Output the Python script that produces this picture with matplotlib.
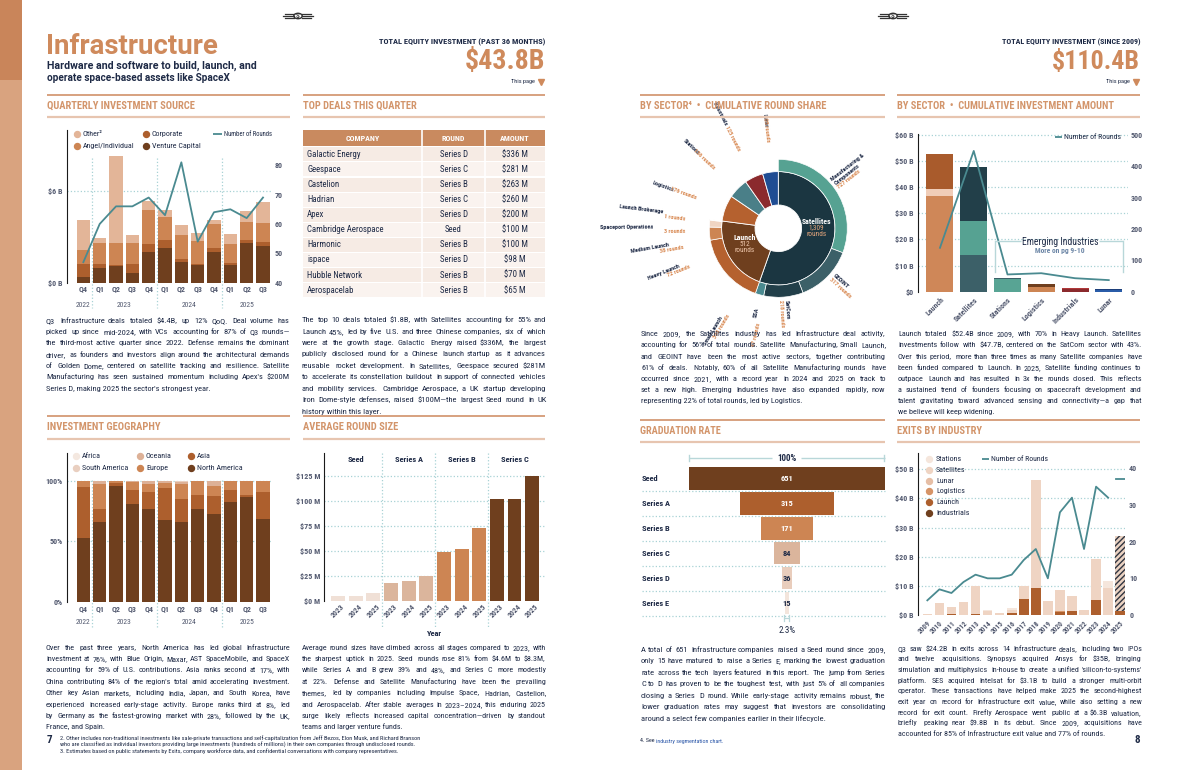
import math
import numpy as np
import matplotlib
matplotlib.use('Agg')
import matplotlib.pyplot as plt
import matplotlib.transforms as mtrans
from matplotlib import font_manager as fm
from matplotlib.patches import Rectangle, Wedge, Circle
from matplotlib.lines import Line2D

# ---------------- DATA ----------------
quarters = ['Q4', 'Q1', 'Q2', 'Q3', 'Q4', 'Q1', 'Q2', 'Q3', 'Q4', 'Q1', 'Q2', 'Q3']
quarter_years = ['2022', '2023', '2024', '2025']
qis_vc = [0.39, 0.96, 1.11, 0.63, 2.03, 2.27, 1.35, 1.18, 2.03, 1.16, 2.62, 2.40]
qis_corp = [0.83, 0.26, 0.05, 0.59, 0.50, 0.52, 0.20, 0.06, 0.24, 0.13, 0.17, 0.28]
qis_angel = [0.92, 1.40, 1.42, 1.40, 2.23, 1.51, 1.57, 1.51, 1.59, 1.24, 1.20, 1.25]
qis_other = [1.96, 0.28, 5.72, 0.50, 0.59, 0.46, 0.65, 0.52, 0.24, 0.66, 0.70, 1.35]
qis_rounds = [47, 60, 66, 66, 69, 63, 81, 54, 64, 65, 62, 69]

deal_company = ['Galactic Energy', 'Geespace', 'Castelion', 'Hadrian', 'Apex',
                'Cambridge Aerospace', 'Harmonic', 'ispace', 'Hubble Network', 'Aerospacelab']
deal_round = ['Series D', 'Series C', 'Series B', 'Series C', 'Series D',
              'Seed', 'Series B', 'Series D', 'Series B', 'Series B']
deal_amount = ['$336 M', '$281 M', '$263 M', '$260 M', '$200 M',
               '$100 M', '$100 M', '$98 M', '$70 M', '$65 M']

geo_na = [52.3, 65.8, 95.6, 80.7, 76.6, 67.5, 65.8, 76.6, 72.5, 82.4, 86.5, 68.3]
geo_asia = [42.5, 10.5, 2.2, 11.3, 14.0, 26.4, 19.0, 11.6, 14.8, 9.9, 1.7, 22.3]
geo_europe = [5.2, 20.9, 1.6, 6.9, 6.4, 4.2, 12.4, 11.8, 8.3, 7.7, 11.8, 9.4]
geo_oceania = [0.0, 2.8, 0.6, 1.1, 3.0, 1.4, 2.0, 0.0, 4.4, 0.0, 0.0, 0.0]
geo_samerica = [0.0, 0.0, 0.0, 0.0, 0.0, 0.5, 0.8, 0.0, 0.0, 0.0, 0.0, 0.0]
geo_africa = [0.0, 0.0, 0.0, 0.0, 0.0, 0.0, 0.0, 0.0, 0.0, 0.0, 0.0, 0.0]

ars_stages = ['Seed', 'Series A', 'Series B', 'Series C']
ars_years = ['2023', '2024', '2025']
ars_seed = [4.6, 5.2, 8.3]
ars_a = [18.0, 20.3, 25.0]
ars_b = [49.0, 52.0, 73.0]
ars_c = [102.0, 102.0, 125.0]

sb_inner_names = ['Satellites', 'Launch', 'Logistics', 'Stations', 'Industrials', 'Lunar']
sb_inner_rounds = [1309, 512, 176, 136, 125, 105]
sb_sat_names = ['Manufacturing &\nComponents', 'GEOINT', 'SatCom', 'SSA']
sb_sat_rounds = [727, 317, 218, 47]
sb_launch_names = ['Small Launch', 'Heavy Launch', 'Medium Launch', 'Spaceport Operations', 'Launch Brokerage']
sb_launch_rounds = [398, 72, 38, 3, 1]

cia_sectors = ['Launch', 'Satellites', 'Stations', 'Logistics', 'Industrials', 'Lunar']
cia_seg1 = [36.5, 14.0, 4.7, 1.9, 1.0, 0.8]
cia_seg2 = [2.9, 13.2, 0.6, 1.0, 0.5, 0.2]
cia_seg3 = [13.3, 20.7, 0.0, 0.0, 0.0, 0.0]
cia_rounds = [140, 449, 55, 59, 43, 37]

grad_stages = ['Seed', 'Series A', 'Series B', 'Series C', 'Series D', 'Series E']
grad_counts = [651, 315, 171, 84, 36, 15]

exit_years = [str(y) for y in range(2009, 2026)]
exit_industrials = [0, 0, 0, 0, 0, 0, 0, 0, 0, 0, 0, 0, 0, 0, 0, 0, 0]
exit_launch = [0, 0, 0.3, 0, 0.3, 0, 0, 0.8, 5.6, 9.3, 0, 1.1, 1.5, 0, 5.1, 0, 1.4]
exit_logistics = [0, 0, 0, 0, 0, 0, 0, 0, 0, 0, 0, 0.2, 0, 0, 0, 0, 0]
exit_lunar = [0] * 17
exit_satellites = [0.3, 4.1, 2.4, 4.5, 9.8, 1.3, 0.7, 0.9, 4.5, 37.0, 4.8, 7.3, 5.0, 1.7, 14.2, 9.4, 25.7]
exit_stations = [0, 0, 0, 0, 0, 0.4, 0, 0.8, 0, 0, 0, 0, 0, 0, 0, 2.4, 0]
exit_rounds = [4, 7, 6, 9, 11, 10, 10, 11, 15, 18, 10, 28, 32, 18, 35, 32]
exit_rounds_2025 = 37

txt_q = ["Q3 Infrastructure deals totaled $4.4B, up 12% QoQ. Deal volume has",
         "picked up since mid-2024, with VCs accounting for 87% of Q3 rounds—",
         "the third-most active quarter since 2022. Defense remains the dominant",
         "driver, as founders and investors align around the architectural demands",
         "of Golden Dome, centered on satellite tracking and resilience. Satellite",
         "Manufacturing has seen sustained momentum including Apex's $200M",
         "Series D, making 2025 the sector's strongest year."]
txt_deals = ["The top 10 deals totaled $1.8B, with Satellites accounting for 55% and",
             "Launch 45%, led by five U.S. and three Chinese companies, six of which",
             "were at the growth stage. Galactic Energy raised $336M, the largest",
             "publicly disclosed round for a Chinese launch startup as it advances",
             "reusable rocket development. In Satellites, Geespace secured $281M",
             "to accelerate its constellation buildout in support of connected vehicles",
             "and mobility services. Cambridge Aerospace, a UK startup developing",
             "Iron Dome-style defenses, raised $100M—the largest Seed round in UK",
             "history within this layer."]
txt_share = ["Since 2009, the Satellites industry has led Infrastructure deal activity,",
             "accounting for 56% of total rounds. Satellite Manufacturing, Small Launch,",
             "and GEOINT have been the most active sectors, together contributing",
             "61% of deals. Notably, 60% of all Satellite Manufacturing rounds have",
             "occurred since 2021, with a record year in 2024 and 2025 on track to",
             "set a new high. Emerging Industries have also expanded rapidly, now",
             "representing 22% of total rounds, led by Logistics."]
txt_amount = ["Launch totaled $52.4B since 2009, with 70% in Heavy Launch. Satellites",
              "investments follow with $47.7B, centered on the SatCom sector with 43%.",
              "Over this period, more than three times as many Satellite companies have",
              "been funded compared to Launch. In 2025, Satellite funding continues to",
              "outpace Launch and has resulted in 3x the rounds closed. This reflects",
              "a sustained trend of founders focusing on spacecraft development and",
              "talent gravitating toward advanced sensing and connectivity—a gap that",
              "we believe will keep widening."]
txt_geo = ["Over the past three years, North America has led global Infrastructure",
           "investment at 76%, with Blue Origin, Maxar, AST SpaceMobile, and SpaceX",
           "accounting for 59% of U.S. contributions. Asia ranks second at 17%, with",
           "China contributing 84% of the region's total amid accelerating investment.",
           "Other key Asian markets, including India, Japan, and South Korea, have",
           "experienced increased early-stage activity. Europe ranks third at 8%, led",
           "by Germany as the fastest-growing market with 28%, followed by the UK,",
           "France, and Spain."]
txt_ars = ["Average round sizes have climbed across all stages compared to 2023, with",
           "the sharpest uptick in 2025. Seed rounds rose 81% from $4.6M to $8.3M,",
           "while Series A and B grew 39% and 48%, and Series C more modestly",
           "at 22%. Defense and Satellite Manufacturing have been the prevailing",
           "themes, led by companies including Impulse Space, Hadrian, Castelion,",
           "and Aerospacelab. After stable averages in 2023–2024, this enduring 2025",
           "surge likely reflects increased capital concentration—driven by standout",
           "teams and larger venture funds."]
txt_grad = ["A total of 651 Infrastructure companies raised a Seed round since 2009,",
            "only 15 have matured to raise a Series E, marking the lowest graduation",
            "rate across the tech layers featured in this report. The jump from Series",
            "C to D has proven to be the toughest test, with just 5% of all companies",
            "closing a Series D round. While early-stage activity remains robust, the",
            "lower graduation rates may suggest that investors are consolidating",
            "around a select few companies earlier in their lifecycle."]
txt_exit = ["Q3 saw $24.2B in exits across 14 Infrastructure deals, including two IPOs",
            "and twelve acquisitions. Synopsys acquired Ansys for $35B, bringing",
            "simulation and multiphysics in-house to create a unified 'silicon-to-systems'",
            "platform. SES acquired Intelsat for $3.1B to build a stronger multi-orbit",
            "operator. These transactions have helped make 2025 the second-highest",
            "exit year on record for Infrastructure exit value, while also setting a new",
            "record for exit count. Firefly Aerospace went public at a $6.3B valuation,",
            "briefly peaking near $9.8B in its debut. Since 2009, acquisitions have",
            "accounted for 85% of Infrastructure exit value and 77% of rounds."]
footnotes_left = ["2. Other includes non-traditional investments like sale-private transactions and self-capitalization from Jeff Bezos, Elon Musk, and Richard Branson",
                  "who are classified as individual investors providing large investments (hundreds of millions) in their own companies through undisclosed rounds.",
                  "3. Estimates based on public statements by Exits, company workforce data, and confidential conversations with company representatives."]

# ---------------- FONT ----------------
ents = fm.fontManager.ttflist
names = {f.name for f in ents}
NAR, STR = None, 'normal'
for cand in ['Roboto Condensed', 'Liberation Sans Narrow', 'Open Sans Condensed', 'Noto Sans Condensed',
             'DejaVu Sans Condensed', 'Arial Narrow', 'Noto Sans SemiCondensed', 'Open Sans SemiCondensed']:
    if cand in names:
        NAR = cand
        break
if NAR is None:
    for fam in ['Roboto', 'Open Sans', 'Noto Sans', 'DejaVu Sans', 'Liberation Sans', 'Lato', 'Inter']:
        hit = [f for f in ents if f.name == fam and 'condensed' in str(f.stretch)]
        if hit:
            NAR, STR = fam, hit[0].stretch
            break
if NAR is None:
    NAR = 'Roboto' if 'Roboto' in names else 'DejaVu Sans'
plt.rcParams['font.family'] = NAR
plt.rcParams['font.stretch'] = STR
FAM = NAR
FAMX = [NAR, 'DejaVu Sans']
WIDE = 'Roboto' if 'Roboto' in names else 'DejaVu Sans'

# ---------------- STYLE ----------------
W, H = 1190, 770
NAVY = '#1e2a46'
TAN = '#cf8a5c'
SEC = '#d3956b'
LINE1 = '#d49a75'
LINE2 = '#e7c5b0'
GRID = '#a8d2d5'
TEAL = '#4a8a90'
TICK = '#535a70'
C_DARK = '#6f3f1e'
C_MED = '#ad5f2d'
C_ORG = '#cd8553'
C_LT = '#e3b598'
BR = '#b8d7d9'

fig = plt.figure(figsize=(W / 100, H / 100), dpi=100)
fig.patch.set_facecolor('white')
R = fig.canvas.get_renderer()


def fx(x):
    return x / W


def fy(y):
    return 1 - y / H


def add_ax(x0, y0, x1, y1):
    a = fig.add_axes([x0 / W, 1 - y1 / H, (x1 - x0) / W, (y1 - y0) / H])
    a.set_facecolor('none')
    return a


def T(x, y, s, **kw):
    kw.setdefault('family', FAM)
    kw.setdefault('color', NAVY)
    kw.setdefault('parse_math', False)
    return fig.text(fx(x), fy(y), s, **kw)


def tw(s, **kw):
    kw.setdefault('family', FAM)
    kw.setdefault('parse_math', False)
    t = fig.text(0, 0, s, **kw)
    w = t.get_window_extent(R).width
    t.remove()
    return w


def Tfit(x, y, s, width, **kw):
    base = kw.get('fontsize', 8)
    w = tw(s, **{k: v for k, v in kw.items() if k in ('fontsize', 'weight', 'family')})
    kw['fontsize'] = base * width / w
    return T(x, y, s, **kw)


def hline(x0, x1, y, color, lw=1.2, ls='-'):
    fig.add_artist(Line2D([fx(x0), fx(x1)], [fy(y), fy(y)], color=color, lw=lw, ls=ls,
                          transform=fig.transFigure, solid_capstyle='butt'))


def vline(x, y0, y1, color, lw=1.0, ls='-'):
    fig.add_artist(Line2D([fx(x), fx(x)], [fy(y0), fy(y1)], color=color, lw=lw, ls=ls,
                          transform=fig.transFigure))


def dot(x, y, color, ms=4.3):
    fig.add_artist(Line2D([fx(x)], [fy(y)], marker='o', ms=ms, color=color, lw=0,
                          transform=fig.transFigure))


def word_at(x, yb, s, fs, color):
    # compensate Agg's rounding of fractional glyph descents so all words share one baseline
    prop = fm.FontProperties(family=FAM, size=fs)
    d = R.get_text_width_height_descent(s, prop, ismath=False)[2]
    adj = math.ceil(d - 1e-6) - d
    T(round(x), yb + adj, s, va='baseline', ha='left', fontsize=fs, color=color)


def para(x0, x1, yc, lh, lines, size=6.4, color=NAVY, fill=0.975):
    maxw = max(tw(l, fontsize=size) for l in lines)
    fs = min(size * (x1 - x0) * fill / maxw, 7.4)
    off = fs * 100 / 72 * 0.33
    for i, line in enumerate(lines):
        yb = round(yc + i * lh + off)
        words = line.split(' ')
        if i == len(lines) - 1 or len(words) < 2:
            word_at(x0, yb, line, fs, color)
            continue
        ws = [tw(w, fontsize=fs) for w in words]
        gap = (x1 - x0 - sum(ws)) / (len(words) - 1)
        xx = x0
        for w, wd in zip(words, ws):
            word_at(xx, yb, w, fs, color)
            xx += wd + gap


def section(x0, x1, y_text, y_under, title, width, y_over=None, family=None):
    if y_over is not None:
        hline(x0, x1, y_over, LINE1, lw=1.3)
    Tfit(x0, y_text, title, width, ha='left', va='center', fontsize=7, weight='bold', color=SEC,
         family=family or FAM)
    hline(x0, x1, y_under, LINE2, lw=1.6)


def style(ax, left=True):
    for s in ['top', 'right', 'bottom']:
        ax.spines[s].set_visible(False)
    ax.spines['left'].set_visible(left)
    ax.spines['left'].set_color('#1a1a1a')
    ax.spines['left'].set_linewidth(0.8)
    ax.tick_params(length=0, pad=3)


def yt(ax, ticks, labels, size=5.8):
    ax.set_yticks(ticks)
    ax.set_yticklabels(labels, fontsize=size, color=TICK, fontweight='bold')


def bx(ax):
    return mtrans.blended_transform_factory(ax.transData, fig.transFigure)


# ---------------- PAGE FURNITURE ----------------
fig.add_artist(Rectangle((0, fy(80)), fx(22), 1 - fy(80), color='#c9855a', transform=fig.transFigure, lw=0))
fig.add_artist(Rectangle((0, 0), fx(22), fy(80), color='#d9a37f', transform=fig.transFigure, lw=0))


def logo(xc, yc):
    fig.add_artist(Circle((fx(xc), fy(yc)), 4.2 / W, transform=fig.transFigure,
                          facecolor='white', edgecolor='#333333', lw=1.0))
    for dy, ln in [(-2, 9), (0, 11), (2, 9)]:
        fig.add_artist(Line2D([fx(xc - 4 - ln), fx(xc - 4)], [fy(yc + dy)] * 2, color='#333333', lw=0.9,
                              transform=fig.transFigure))
        fig.add_artist(Line2D([fx(xc + 4), fx(xc + 4 + ln)], [fy(yc + dy)] * 2, color='#333333', lw=0.9,
                              transform=fig.transFigure))
    T(xc, yc + 0.3, 'S', ha='center', va='center', fontsize=5, weight='bold', color='#333333')


logo(298, 16)
logo(893, 16)

Tfit(46, 46, 'Infrastructure', 172, ha='left', va='center', fontsize=22, weight='bold', color=TAN, family=WIDE)
Tfit(47, 66, 'Hardware and software to build, launch, and', 209, ha='left', va='center', fontsize=7.2,
     weight='bold', family=WIDE)
Tfit(47, 78, 'operate space-based assets like SpaceX', 182, ha='left', va='center', fontsize=7.2,
     weight='bold', family=WIDE)


def header(xr, label, lw_, value, vw):
    Tfit(xr, 42, label, lw_, ha='right', va='center', fontsize=6.4, weight='bold')
    Tfit(xr, 62, value, vw, ha='right', va='center', fontsize=22, weight='bold', color=TAN)
    Tfit(xr - 10, 82, 'This page', 24, ha='right', va='center', fontsize=5.5)
    fig.add_artist(Line2D([fx(xr - 4)], [fy(82)], marker='v', ms=5, color=TAN, lw=0,
                          transform=fig.transFigure))


header(545, 'TOTAL EQUITY INVESTMENT (PAST 36 MONTHS)', 166, '$43.8B', 80)
header(1140, 'TOTAL EQUITY INVESTMENT (SINCE 2009)', 137, '$110.4B', 88)

for (a, b) in [(47, 290), (303, 545), (640, 885), (897, 1140)]:
    hline(a, b, 95, LINE1, lw=1.3)
section(47, 290, 106, 117, 'QUARTERLY INVESTMENT SOURCE', 147)
section(303, 545, 106, 117, 'TOP DEALS THIS QUARTER', 113)
section(640, 885, 106, 117, 'BY SECTOR⁴  •  CUMULATIVE ROUND SHARE', 186, family=FAMX)
section(897, 1140, 106, 117, 'BY SECTOR  •  CUMULATIVE INVESTMENT AMOUNT', 215, family=FAMX)
section(47, 290, 427, 439, 'INVESTMENT GEOGRAPHY', 112, y_over=415.5)
section(303, 545, 427, 439, 'AVERAGE ROUND SIZE', 94, y_over=415.5)
section(640, 885, 431, 442, 'GRADUATION RATE', 81, y_over=420)
section(897, 1140, 431, 442, 'EXITS BY INDUSTRY', 85, y_over=420)

# ---------------- QUARTERLY INVESTMENT SOURCE ----------------
ax = add_ax(66.7, 130, 272, 282.7)
style(ax)
x = np.arange(len(quarters))
bot = np.zeros(len(x))
for vals, col in [(qis_vc, C_DARK), (qis_corp, C_MED), (qis_angel, C_ORG), (qis_other, C_LT)]:
    ax.bar(x, vals, 0.8, bottom=bot, color=col, zorder=3, lw=0)
    bot += np.array(vals)
ax.set_xlim(-1.02, 11.55)
ax.set_ylim(0, 10)
ax.axhline(6, color=GRID, ls=':', lw=0.9, zorder=1)
yt(ax, [0, 6], ['$0 B', '$6 B'])
ax.set_xticks([])
axr = ax.twinx()
style(axr, left=False)
axr.plot(x, qis_rounds, color=TEAL, lw=1.3, zorder=5)
axr.set_ylim(40, 92)
yt(axr, [40, 50, 60, 70, 80], ['40', '50', '60', '70', '80'])
axr.tick_params(pad=2)
for i, q in enumerate(quarters):
    ax.text(i, fy(289), q, transform=bx(ax), ha='center', va='center', fontsize=5.8, color=TICK, weight='bold')
for xx, yr in zip([0, 2.5, 6.5, 10], quarter_years):
    ax.text(xx, fy(304.5), yr, transform=bx(ax), ha='center', va='center', fontsize=5.5, color=TICK)
for xx in [0.5, 4.5, 8.5]:
    ax.plot([xx, xx], [fy(158), fy(308)], transform=bx(ax), clip_on=False, color=GRID, ls=':', lw=0.9)
for (lx, ly, col, lab) in [(76.7, 134.3, C_LT, 'Other²'), (76.7, 146, C_ORG, 'Angel/Individual'),
                           (146, 134.3, C_MED, 'Corporate'), (146, 146, C_DARK, 'Venture Capital')]:
    dot(lx, ly, col)
    T(lx + 6, ly, lab, ha='left', va='center', fontsize=5.8, family=FAMX)
hline(213, 221.5, 134.3, TEAL, lw=1.3)
Tfit(223.5, 134.3, 'Number of Rounds', 49, ha='left', va='center', fontsize=5.8)

# ---------------- TOP DEALS TABLE ----------------
cols = [(303, 422), (422, 485), (485, 545)]
fig.add_artist(Rectangle((fx(303), fy(146)), fx(545) - fx(303), fy(130) - fy(146), color='#c98a5f',
                         transform=fig.transFigure, lw=0))
for (a, b), lab in zip(cols, ['COMPANY', 'ROUND', 'AMOUNT']):
    T((a + b) / 2, 138.3, lab, ha='center', va='center', fontsize=5.8, weight='bold', color='white')
for i in range(len(deal_company)):
    yc = 154.3 + 15.1 * i
    colr = '#f6ebe4' if i % 2 == 0 else '#faf3ef'
    fig.add_artist(Rectangle((fx(303), fy(yc + 7)), fx(545) - fx(303), fy(yc - 7) - fy(yc + 7), color=colr,
                             transform=fig.transFigure, lw=0))
    T(307, yc, deal_company[i], ha='left', va='center', fontsize=6.3)
    T(453.5, yc, deal_round[i], ha='center', va='center', fontsize=6.3)
    T(515, yc, deal_amount[i], ha='center', va='center', fontsize=6.3)
for xv in [422, 485]:
    vline(xv, 130, 154.3 + 15.1 * 9 + 7, 'white', lw=1.2)

# ---------------- INVESTMENT GEOGRAPHY ----------------
ax = add_ax(66.7, 453.3, 272, 601.7)
style(ax)
bot = np.zeros(12)
for vals, col in [(geo_na, C_DARK), (geo_asia, C_MED), (geo_europe, C_ORG), (geo_oceania, '#ddb197'),
                  (geo_samerica, '#e9cfc0'), (geo_africa, '#f4e8e0')]:
    ax.bar(x, vals, 0.8, bottom=bot, color=col, zorder=3, lw=0)
    bot += np.array(vals)
ax.set_xlim(-1.02, 11.55)
ax.set_ylim(0, 122.6)
for g in [50, 100]:
    ax.axhline(g, color=GRID, ls=':', lw=0.9, zorder=1)
yt(ax, [0, 50, 100], ['0%', '50%', '100%'])
ax.set_xticks([])
for i, q in enumerate(quarters):
    ax.text(i, fy(609), q, transform=bx(ax), ha='center', va='center', fontsize=5.8, color=TICK, weight='bold')
for xx, yr in zip([0, 2.5, 6.5, 10], quarter_years):
    ax.text(xx, fy(622.5), yr, transform=bx(ax), ha='center', va='center', fontsize=5.5, color=TICK)
for xx in [0.5, 4.5, 8.5]:
    ax.plot([xx, xx], [fy(480), fy(627)], transform=bx(ax), clip_on=False, color=GRID, ls=':', lw=0.9)
for (lx, ly, col, lab) in [(76, 456, '#f4e8e0', 'Africa'), (76, 468.3, '#e9cfc0', 'South America'),
                           (140, 456, '#ddb197', 'Oceania'), (140, 468.3, C_ORG, 'Europe'),
                           (190.7, 456, C_MED, 'Asia'), (190.7, 468.3, C_DARK, 'North America')]:
    dot(lx, ly, col)
    T(lx + 6, ly, lab, ha='left', va='center', fontsize=5.8)

# ---------------- AVERAGE ROUND SIZE ----------------
ax = add_ax(324.3, 453.3, 545, 601)
style(ax)
ars_colors = ['#f0e0d6', '#dbb59c', C_ORG, C_DARK]
pos = 0
for stage_vals, col in zip([ars_seed, ars_a, ars_b, ars_c], ars_colors):
    xs = np.arange(pos, pos + 3)
    ax.bar(xs, stage_vals, 0.79, color=col, zorder=3, lw=0)
    for xx, yr in zip(xs, ars_years):
        ax.text(xx + 0.3, fy(605), yr, transform=bx(ax), ha='right', va='center', rotation=45,
                rotation_mode='anchor', fontsize=5.5, color=TICK, weight='bold')
    pos += 3
ax.set_xlim(-0.78, 11.73)
ax.set_ylim(0, 147.7)
for g in [25, 50, 75, 100, 125]:
    ax.axhline(g, color=GRID, ls=':', lw=0.9, zorder=1)
yt(ax, [0, 25, 50, 75, 100, 125], ['$0 M', '$25 M', '$50 M', '$75 M', '$100 M', '$125 M'])
ax.set_xticks([])
for k, st in enumerate(ars_stages):
    ax.text(3 * k + 1, fy(459), st, transform=bx(ax), ha='center', va='center', fontsize=6, weight='bold',
            color=NAVY)
for xx in [2.5, 5.5, 8.5]:
    ax.plot([xx, xx], [fy(453.3), fy(628)], transform=bx(ax), clip_on=False, color=GRID, ls=':', lw=0.9)
T(434.7, 633, 'Year', ha='center', va='center', fontsize=6, weight='bold')

# ---------------- SUNBURST ----------------
sb = add_ax(668.3, 118.3, 888.3, 338.3)
sb.set_xlim(-110, 110)
sb.set_ylim(-110, 110)
sb.axis('off')
k_deg = 360.0 / sum(sb_inner_rounds)
R_HOLE, R_IN, R_OUT = 23.3, 56.7, 69.0
inner_cols = ['#1b3641', C_DARK, '#b5612f', '#4a7f88', '#8b2a2d', '#1f4d93']
start = 90.0
for v, c in zip(sb_inner_rounds, inner_cols):
    sb.add_patch(Wedge((0, 0), R_IN, start - v * k_deg, start, width=R_IN - R_HOLE, facecolor=c,
                       edgecolor='white', lw=0.6))
    start -= v * k_deg
outer_cols = ['#56a292', '#3c6068', '#223f49', '#4a8a90', '#b5612f', C_ORG, '#f0d5c3', '#e8c2a8', '#f4e2d6']
start = 90.0
for v, c in zip(sb_sat_rounds + sb_launch_rounds, outer_cols):
    sb.add_patch(Wedge((0, 0), R_OUT, start - v * k_deg, start, width=R_OUT - R_IN, facecolor=c,
                       edgecolor='white', lw=0.5))
    start -= v * k_deg

LORG = '#d98b55'


def slabel(theta, r0, parts, size=4.4, lh=5.2):
    th = np.radians(theta)
    u = np.array([np.cos(th), np.sin(th)])
    right = np.cos(th) >= 0
    rot = theta if right else theta + 180
    d = u if right else -u
    up = np.array([-d[1], d[0]])
    n = len(parts)
    space = tw('a a', fontsize=size) - 2 * tw('a', fontsize=size)
    for kk, segs in enumerate(parts):
        off = ((n - 1) / 2.0 - kk) * lh
        widths = [tw(s, fontsize=size, weight='bold') for s, c in segs]
        total = sum(widths) + space * (len(segs) - 1)
        s0 = r0 if right else r0 + total
        pos_along = 0.0
        for (s, c), wd in zip(segs, widths):
            rr = s0 + pos_along if right else s0 - pos_along
            p = rr * u + off * up
            sb.text(p[0], p[1], s, rotation=rot, rotation_mode='anchor',
                    ha='left' if right else 'right', va='center', fontsize=size, weight='bold', color=c)
            pos_along += wd + space


rl = R_OUT + 3
ri = R_IN + 3
slabel(38, rl, [[('Manufacturing &', NAVY)], [('Components', NAVY)], [('727 rounds', LORG)]])
slabel(-42, rl, [[('GEOINT', NAVY)], [('317 rounds', LORG)]])
slabel(-86, rl, [[('SatCom', NAVY)], [('218 rounds', LORG)]])
slabel(-103, rl, [[('SSA', NAVY)], [('47 rounds', LORG)]])
slabel(-121, rl, [[('Small Launch', NAVY)], [('398 rounds', LORG)]])
slabel(-158, rl, [[('Heavy Launch', NAVY)], [('72 rounds', LORG)]])
slabel(-170, rl, [[('Medium Launch', NAVY)], [('38 rounds', LORG)]])
slabel(-179.5, rl, [[('Spaceport Operations', NAVY)], [('3 rounds', LORG)]])
slabel(173, rl, [[('Launch Brokerage', NAVY)], [('1 rounds', LORG)]])
slabel(160, ri, [[('Logistics', NAVY), ('176 rounds', LORG)]])
slabel(137, ri, [[('Stations', NAVY), ('136 rounds', LORG)]])
slabel(117, ri, [[('Industrials', NAVY), ('125 rounds', LORG)]])
slabel(97, ri, [[('Lunar', NAVY), ('105 rounds', LORG)]])
T(816.7, 221, 'Satellites', ha='center', va='center', fontsize=5.6, weight='bold', color='white')
T(816.7, 228, '1,309', ha='center', va='center', fontsize=5.2, color='#e7a77d')
T(816.7, 235, 'rounds', ha='center', va='center', fontsize=5.2, color='#e7a77d')
T(745, 237, 'Launch', ha='center', va='center', fontsize=5.6, weight='bold', color='white')
T(745, 244.3, '512', ha='center', va='center', fontsize=5.2, color='#f0c8ad')
T(745, 251, 'rounds', ha='center', va='center', fontsize=5.2, color='#f0c8ad')

# ---------------- CUMULATIVE INVESTMENT AMOUNT ----------------
ax = add_ax(917.7, 134, 1128, 291.7)
style(ax)
xs = np.arange(len(cia_sectors))
seg_cols = [['#cf8758', '#3c6068', '#58a494', '#cd8553', '#8b2a2d', '#2a5ca8'],
            ['#f0cdb8', '#56a292', '#3c6068', C_DARK, '#b0383a', '#1d3f7a'],
            ['#a95b2c', '#223f49', 'white', 'white', 'white', 'white']]
bot = np.zeros(len(xs))
for vals, cl in zip([cia_seg1, cia_seg2, cia_seg3], seg_cols):
    ax.bar(xs, vals, 0.8, bottom=bot, color=cl, zorder=3, lw=0)
    bot += np.array(vals)
ax.set_xlim(-0.66, 5.57)
ax.set_ylim(0, 60.4)
for g in [10, 20, 30, 40, 50, 60]:
    ax.axhline(g, color=GRID, ls=':', lw=0.9, zorder=1)
yt(ax, [0, 10, 20, 30, 40, 50, 60], ['$0', '$10 B', '$20 B', '$30 B', '$40 B', '$50 B', '$60 B'])
ax.set_xticks(xs)
ax.set_xticklabels(cia_sectors, rotation=45, ha='right', rotation_mode='anchor', fontsize=5.8, color=TICK,
                   fontweight='bold')
axr = ax.twinx()
style(axr, left=False)
axr.plot(xs, cia_rounds, color=TEAL, lw=1.3, zorder=5)
axr.set_ylim(0, 503)
yt(axr, [0, 100, 200, 300, 400, 500], ['0', '100', '200', '300', '400', '500'])
axr.tick_params(pad=2)
hline(1055, 1062, 136.7, TEAL, lw=1.3)
Tfit(1064, 136.7, 'Number of Rounds', 57, ha='left', va='center', fontsize=5.8)
hline(995, 1021, 240.7, BR, lw=1.0)
hline(1099, 1123, 240.7, BR, lw=1.0)
vline(995, 240.7, 271.7, BR, lw=1.0)
vline(1123, 240.7, 271.7, BR, lw=1.0)
Tfit(1060, 241.5, 'Emerging Industries', 75, ha='center', va='center', fontsize=7.4, color=NAVY)
Tfit(1060, 251, 'More on pg 9-10', 50, ha='center', va='center', fontsize=5.4, color='#6c86a6', weight='bold')

# ---------------- GRADUATION RATE ----------------
ax = add_ax(689, 453, 885, 628)
ax.axis('off')
grad_cols = [C_DARK, C_MED, C_ORG, '#dbb59c', '#e9cdbc', '#f3e5dc']
ys = np.arange(len(grad_stages))
ax.barh(ys, grad_counts, 0.9, left=[-c / 2 for c in grad_counts], color=grad_cols, lw=0, zorder=3)
ax.set_xlim(-651 / 2, 651 / 2)
ax.set_ylim(6.0, -1.024)
for i, (st, c) in enumerate(zip(grad_stages, grad_counts)):
    ax.text(0, i, str(c), ha='center', va='center', fontsize=6, weight='bold',
            color='white' if i < 3 else NAVY, zorder=4)
    T(642, 478.5 + 24.9 * i, st, ha='left', va='center', fontsize=6, weight='bold')
    hline(642, 885, 478.5 + 24.9 * i + 12.5, GRID, lw=0.9, ls=':')
hline(689, 772, 458.3, BR, lw=1.0)
hline(801, 884.5, 458.3, BR, lw=1.0)
vline(689.3, 455.5, 461, BR, lw=1.0)
vline(884.3, 455.5, 461, BR, lw=1.0)
T(786.7, 458.5, '100%', ha='center', va='center', fontsize=6.5, weight='bold')
vline(784.4, 615, 621, BR, lw=0.9)
vline(789.0, 615, 621, BR, lw=0.9)
hline(784.4, 789, 618, BR, lw=0.9)
T(786.7, 630.7, '2.3%', ha='center', va='center', fontsize=6.5)

# ---------------- EXITS BY INDUSTRY ----------------
ax = add_ax(917.7, 453.3, 1125, 615)
style(ax)
xs = np.arange(len(exit_years))
ex_cols = [C_DARK, C_MED, '#d69467', '#e6bea5', '#efd4c3', '#f5e6dc']
bot = np.zeros(len(xs))
for j, (vals, col) in enumerate(zip([exit_industrials, exit_launch, exit_logistics, exit_lunar,
                                     exit_satellites, exit_stations], ex_cols)):
    v = np.array(vals, dtype=float)
    ax.bar(xs[:-1], v[:-1], 0.8, bottom=bot[:-1], color=col, zorder=3, lw=0)
    if j == 4:
        ax.bar(xs[-1:], v[-1:], 0.8, bottom=bot[-1:], color='#ead2c2', edgecolor='#2f3440', hatch='//////',
               lw=0, zorder=3)
    else:
        ax.bar(xs[-1:], v[-1:], 0.8, bottom=bot[-1:], color=col, zorder=3, lw=0)
    bot += v
ax.set_xlim(-0.8, 16.4)
ax.set_ylim(0, 55.5)
for g in [10, 20, 30, 40, 50]:
    ax.axhline(g, color=GRID, ls=':', lw=0.9, zorder=1)
yt(ax, [0, 10, 20, 30, 40, 50], ['$0 B', '$10 B', '$20 B', '$30 B', '$40 B', '$50 B'])
ax.set_xticks(xs)
ax.set_xticklabels(exit_years, rotation=45, ha='right', rotation_mode='anchor', fontsize=5.2, color=TICK,
                   fontweight='bold')
axr = ax.twinx()
style(axr, left=False)
axr.plot(xs[:-1], exit_rounds, color=TEAL, lw=1.3, zorder=5)
axr.plot([xs[-1] - 0.35, xs[-1] + 0.45], [exit_rounds_2025] * 2, color=TEAL, lw=1.3)
axr.set_ylim(0, 44.1)
yt(axr, [0, 10, 20, 30, 40], ['0', '10', '20', '30', '40'])
axr.tick_params(pad=3)
for lab, col, ly in zip(['Stations', 'Satellites', 'Lunar', 'Logistics', 'Launch', 'Industrials'],
                        ['#f5e6dc', '#efd4c3', '#e6bea5', '#d69467', C_MED, C_DARK],
                        [459.3, 470, 480.7, 491.3, 502.3, 513.3]):
    dot(929.3, ly, col)
    T(936, ly, lab, ha='left', va='center', fontsize=5.8)
hline(981.7, 988.5, 459.3, TEAL, lw=1.3)
Tfit(991, 459.3, 'Number of Rounds', 57, ha='left', va='center', fontsize=5.8)

# ---------------- BODY TEXT ----------------
para(46.5, 290, 320, 11.35, txt_q)
para(302.5, 546, 319.3, 11.45, txt_deals)
para(641, 886, 333.7, 11.05, txt_share)
para(898.5, 1142, 333.7, 11.07, txt_amount)
para(46.5, 290, 647, 11.4, txt_geo)
para(302.5, 546, 647, 11.4, txt_ars)
para(641, 886, 649, 11.5, txt_grad)
para(898.5, 1142, 648, 10.65, txt_exit)

fw = max(tw(l, fontsize=4.1) for l in footnotes_left)
fsz = 4.1 * 355 / fw
for i, line in enumerate(footnotes_left):
    T(60, 738 + i * 6.8, line, ha='left', va='center', fontsize=fsz)
T(47, 740, '7', ha='left', va='center', fontsize=8, weight='bold')
T(1140, 740, '8', ha='right', va='center', fontsize=8, weight='bold')
T(640, 741, '4. See ', ha='left', va='center', fontsize=4.3)
T(640 + tw('4. See ', fontsize=4.3), 741, 'industry segmentation chart.', ha='left', va='center', fontsize=4.3,
  color='#2a56a8')

fig.savefig('out.png', dpi=100, facecolor='white')
